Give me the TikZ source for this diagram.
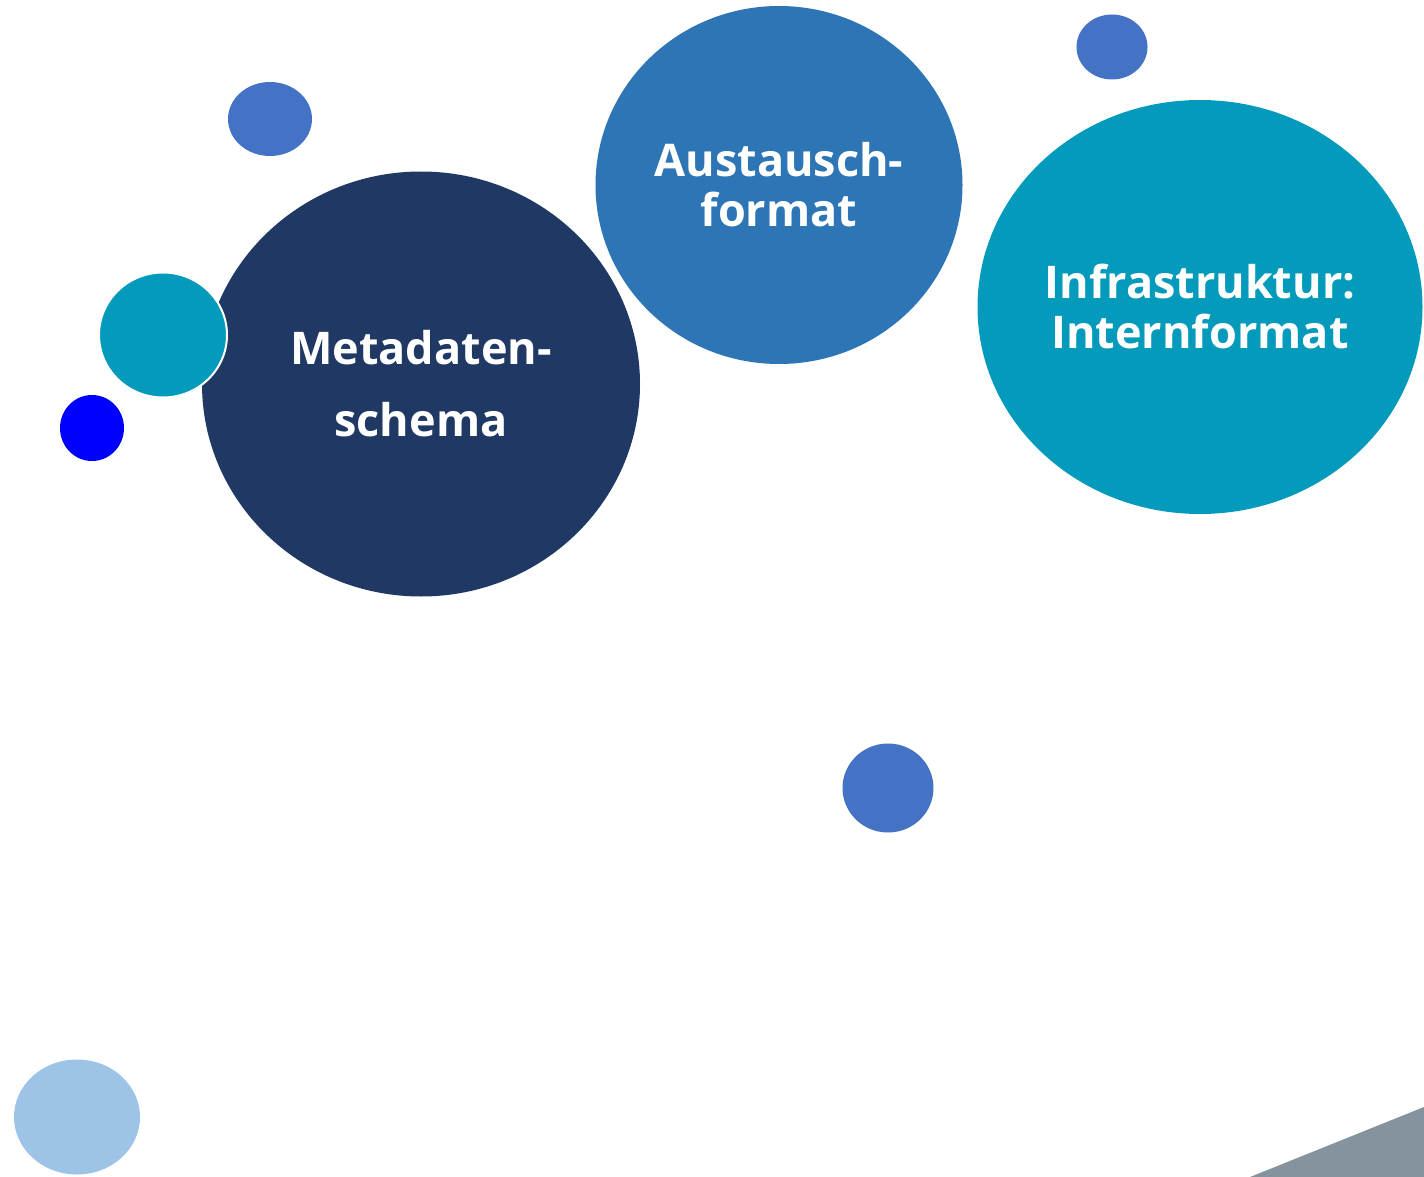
\documentclass[tikz,border=0pt]{standalone}
\usepackage{fontspec}
\setmainfont{Open Sans}
\usepackage{tikz}
\usetikzlibrary{shapes.geometric, positioning}

\definecolor{navy}{HTML}{203864}
\definecolor{steelblue}{HTML}{2E75B6}
\definecolor{petrol}{HTML}{039ABC}
\definecolor{midblue}{HTML}{4472C4}
\definecolor{pureblue}{HTML}{0000FF}
\definecolor{skyblue}{HTML}{9DC3E6}
\definecolor{slategray}{HTML}{84939D}

\begin{document}
\begin{tikzpicture}[
        x=1pt, y=-1pt,
        bubble/.style={ellipse, inner sep=0pt, text=white, align=center, font=\bfseries},
        dot/.style={ellipse, inner sep=0pt},
        bigtext/.style={font={\bfseries\fontsize{45}{50}\selectfont}}
        ]
        \useasboundingbox (0,0) rectangle (1424,1177);

        % Bubbles
        \node[bubble, fill=navy, minimum width=438, minimum height=425, font={\bfseries\fontsize{45}{72}\selectfont}] (schema) at (421,384) {Metadaten-\\schema};
        \node[dot, fill=petrol, draw=white, line width=2pt, minimum width=128, minimum height=125] (teal) at (163,335) {};
        \node[dot, fill=pureblue, minimum width=64, minimum height=66] (blue) at (92,428) {};
        \node[dot, fill=midblue, minimum width=84, minimum height=74] (topleft) at (270,119) {};
        \node[bubble, fill=steelblue, minimum width=367, minimum height=358, bigtext] (exchange) at (779,185) {Austausch-\\format};
        \node[dot, fill=midblue, minimum width=71, minimum height=65] (topright) at (1112,47) {};
        \node[bubble, fill=petrol, minimum width=445, minimum height=414, bigtext] (internal) at (1200,307) {Infrastruktur:\\Internformat};
        \node[dot, fill=midblue, minimum width=91, minimum height=89] (middle) at (888,788) {};
        \node[dot, fill=skyblue, minimum width=126, minimum height=115] (bottomleft) at (77,1117) {};

        % Corner
        \fill[slategray] (1250,1177) -- (1424,1107) -- (1424,1177) -- cycle;

\end{tikzpicture}
\end{document}
